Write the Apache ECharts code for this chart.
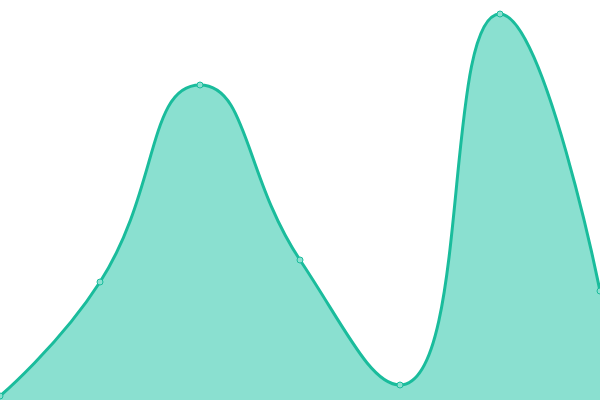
<!DOCTYPE html>
<html><head><meta charset="utf-8">
<script src="https://cdn.jsdelivr.net/npm/echarts@6/dist/echarts.min.js"></script>
<style>html,body{margin:0;padding:0;background:#fff}#c{width:600px;height:400px}</style>
</head><body><div id="c"></div>
<script>
const categories = ['A','B','C','D','E','F','G'];
const values = [4, 118, 315, 140, 15, 386, 109];
const chart = echarts.init(document.getElementById('c'));
chart.setOption({
  animation: false,
  grid: {left: 0, right: 0, top: 0, bottom: 0},
  xAxis: {type: 'category', data: categories, boundaryGap: false, show: false},
  yAxis: {type: 'value', min: 0, max: 400, show: false},
  series: [{
    type: 'line', data: values, smooth: true,
    symbol: 'circle', symbolSize: 6,
    lineStyle: {color: '#1abc9c', width: 3},
    itemStyle: {color: '#8ae0d0', borderColor: '#1abc9c', borderWidth: 1},
    areaStyle: {color: '#8ae0d0', opacity: 1}
  }]
});
</script></body></html>
